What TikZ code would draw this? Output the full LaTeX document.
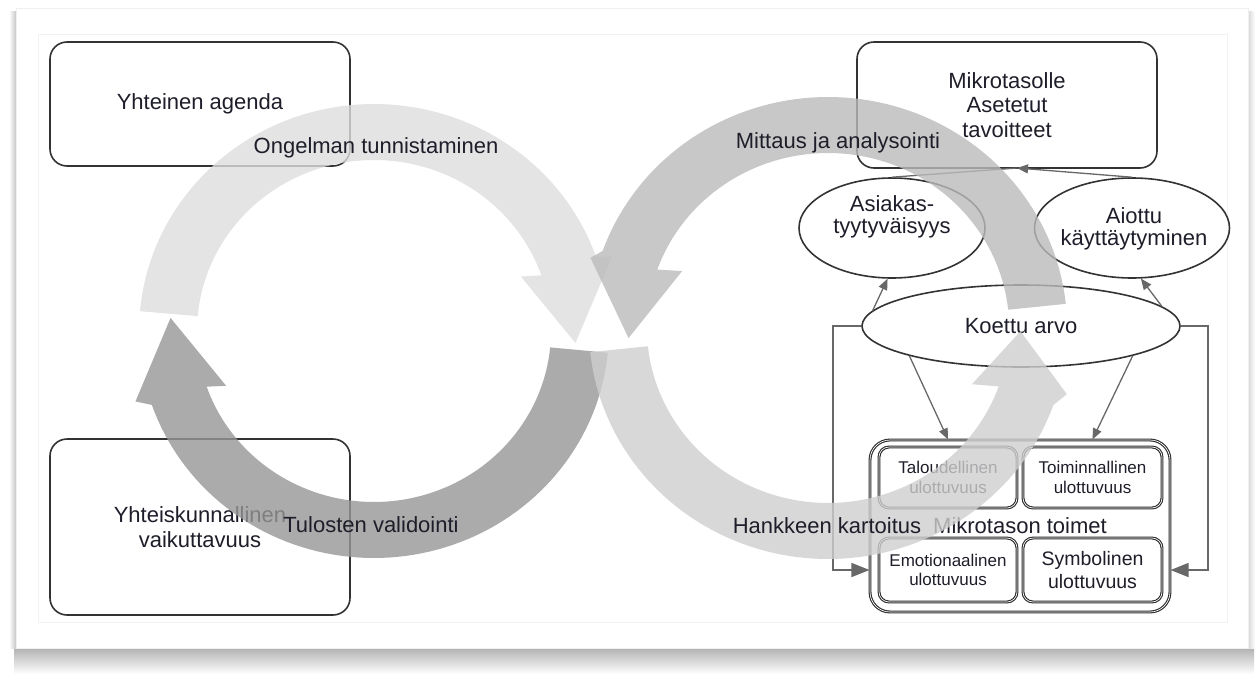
\documentclass[tikz,border=0pt]{standalone}
\usepackage{fontspec}
\setmainfont{Liberation Sans}
\usetikzlibrary{shapes.geometric,arrows.meta}
\definecolor{txt}{HTML}{1E1E2A}
\definecolor{edgec}{HTML}{333333}
\definecolor{dbl}{HTML}{2A2A2A}
\definecolor{connc}{HTML}{686868}
\definecolor{arA}{HTML}{DEDEDE}
\definecolor{arB}{HTML}{BBBBBB}
\definecolor{arC}{HTML}{979797}
\definecolor{arD}{HTML}{CFCFCF}
\begin{document}
\begin{tikzpicture}[x=1pt,y=-1pt,
  bigbox/.style={draw=edgec, line width=1.6pt, rounded corners=17pt, fill=white,
    minimum width=300pt, align=center, text=txt, inner sep=0pt,
    font=\fontsize{22}{24.5}\selectfont},
  ell/.style={ellipse, draw=edgec, line width=1.6pt, fill=white, inner sep=0pt},
  etext/.style={align=center, text=txt, inner sep=0pt, font=\fontsize{22}{21.5}\selectfont},
  dblline/.style={draw=dbl, line width=1.1pt, double=white, double distance=0.7pt},
  subbox/.style={dblline, rounded corners=10pt, fill=white, minimum height=61pt, align=center,
    text=txt, inner sep=0pt, font=\fontsize{17}{19.5}\selectfont},
  conn/.style={draw=connc, line width=1.3pt},
  bigtip/.style={-{Triangle[length=18pt,width=14pt]}},
  smalltip/.style={-{Triangle[length=11pt,width=9pt]}},
  band/.style={fill opacity=0.8},
  bandlabel/.style={anchor=base, text=txt, inner sep=0pt, font=\fontsize{22}{24}\selectfont},
]
% frame and shadow
\useasboundingbox (0,0) rectangle (1257,674);
\fill[white] (0,0) rectangle (1257,674);
\shade[top color=gray!65, bottom color=white] (14,646) rectangle (1254,674);
\shade[left color=white, right color=gray!50] (9,12) rectangle (17,648);
\shade[left color=gray!35, right color=white] (1247,12) rectangle (1255,648);
\fill[white] (16,8) rectangle (1248,648);
\draw[gray!12, line width=0.8pt] (16,8) rectangle (1248,648);
\draw[gray!10, line width=0.8pt] (38,34) rectangle (1227,622);

% nodes
\node[bigbox, minimum height=124pt] (agenda) at (200,104) {Yhteinen agenda};
\node[bigbox, minimum height=176pt] (vaik) at (200,527) {Yhteiskunnallinen\\vaikuttavuus};
\node[bigbox, minimum height=126pt] (mikro) at (1007,105) {Mikrotasolle\\Asetetut\\tavoitteet};
\node[ell, minimum width=186pt, minimum height=100pt] (asiakas) at (892,228) {};
\node[etext] (asiakasT) at (892,217) {Asiakas-\\tyytyväisyys};
\node[ell, minimum width=195pt, minimum height=100pt] (aiottu) at (1132,228) {};
\node[etext] (aiottuT) at (1134,229) {Aiottu\\käyttäytyminen};
\node[ell, minimum width=318pt, minimum height=82pt, text=txt, font=\fontsize{22}{24}\selectfont] (koettu) at (1021,326) {Koettu arvo};
\node[dblline, rounded corners=20pt, fill=white, minimum width=300pt, minimum height=172pt,
  text=txt, inner sep=0pt, font=\fontsize{22}{24}\selectfont] (cont) at (1020,526) {Mikrotason toimet};
\node[subbox, minimum width=138pt] (tal) at (948,477.5) {Taloudellinen\\ulottuvuus};
\node[subbox, minimum width=139pt] (toi) at (1092.5,477.5) {Toiminnallinen\\ulottuvuus};
\node[subbox, minimum width=138pt, minimum height=64pt] (emo) at (948,570) {Emotionaalinen\\ulottuvuus};
\node[subbox, minimum width=139pt, minimum height=64pt, font=\fontsize{19.5}{23}\selectfont] (sym) at (1092.5,570) {Symbolinen\\ulottuvuus};

% connectors
\coordinate (mikroIn) at (1017,168);
\draw[conn] (asiakas.north) -- (mikroIn);
\draw[conn, smalltip] (aiottu.north) -- (mikroIn);
\draw[conn, smalltip] (koettu.174) -- (asiakas.265);
\draw[conn, smalltip] (koettu.8) -- (aiottu.280);
\draw[conn, smalltip] (koettu.195) -- (tal.north |- cont.north);
\draw[conn, smalltip] (koettu.345) -- (toi.north |- cont.north);
\coordinate (lc) at (833,570);
\coordinate (rc) at (1208,570);
\draw[conn, bigtip] (koettu.west) -| (lc) -- (cont.west |- lc);
\draw[conn, bigtip] (koettu.east) -| (rc) -- (cont.east |- rc);

% big curved arrows
\begin{scope}[shift={(374,331)}, xscale=1.035]
  \fill[arA, band] plot[domain=185:341, samples=80] (\x:227) -- (342:242) -- (363.5:195) -- (339:152)
    -- plot[domain=341:185, samples=80] (\x:171) -- cycle;
  \fill[arC, band] plot[domain=5.5:161, samples=80] (\x:227) -- (163:241) -- (183.8:197) -- (159:153)
    -- plot[domain=161:5.5, samples=80] (\x:171) -- cycle;
\end{scope}
\begin{scope}[shift={(828,328)}, xscale=1.035]
  \fill[arB, band] plot[domain=354:199.5, samples=80] (\x:231) -- (197:240) -- (177:193) -- (202:152)
    -- plot[domain=199.5:354, samples=80] (\x:175) -- cycle;
  \fill[arD, band] plot[domain=174:19.5, samples=80] (\x:231) -- (16:240) -- (1:186) -- (22:150)
    -- plot[domain=19.5:174, samples=80] (\x:175) -- cycle;
\end{scope}

% arrow labels
\node[bandlabel] (l1) at (376,153) {Ongelman tunnistaminen};
\node[bandlabel] (l2) at (838,148) {Mittaus ja analysointi};
\node[bandlabel] (l3) at (371,532) {Tulosten validointi};
\node[bandlabel] (l4) at (827,533) {Hankkeen kartoitus};
\end{tikzpicture}
\end{document}
